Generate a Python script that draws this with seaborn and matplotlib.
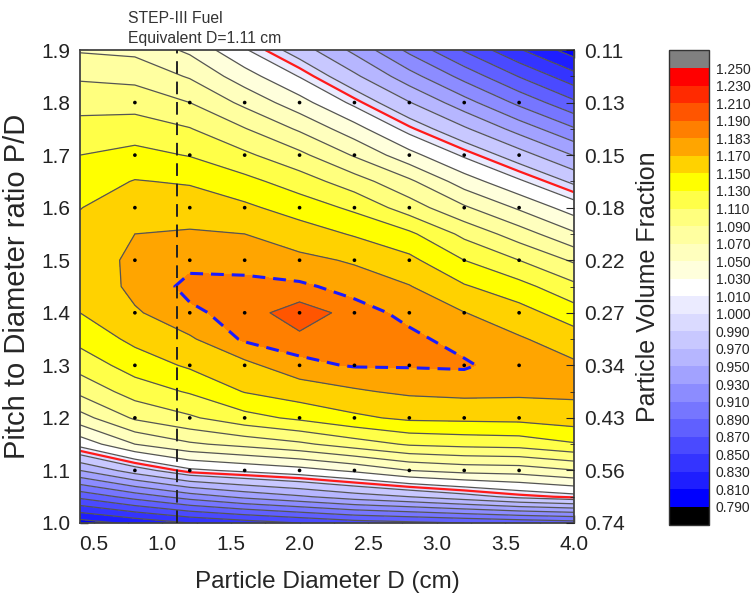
import numpy as np
import pandas as pd
import matplotlib
matplotlib.use("Agg")
import matplotlib.pyplot as plt
from matplotlib.colors import ListedColormap, BoundaryNorm
import seaborn as sns

# ---------------- data ----------------
diam = [0.4, 0.8, 1.2, 1.6, 2.0, 2.4, 2.8, 3.2, 3.6, 4.0]
pitch = [1.00, 1.05, 1.10, 1.15, 1.20, 1.25, 1.30, 1.35, 1.40, 1.45,
         1.50, 1.55, 1.60, 1.65, 1.70, 1.75, 1.80, 1.85, 1.90]
kinf = [
    [0.800, 0.815, 0.830, 0.840, 0.850, 0.860, 0.865, 0.870, 0.875, 0.880],
    [0.875, 0.898, 0.919, 0.935, 0.947, 0.960, 0.970, 0.982, 0.995, 1.003],
    [0.950, 0.980, 1.006, 1.014, 1.022, 1.034, 1.050, 1.057, 1.059, 1.069],
    [1.017, 1.050, 1.067, 1.076, 1.086, 1.100, 1.1125, 1.116, 1.118, 1.128],
    [1.062, 1.093, 1.107, 1.123, 1.134, 1.146, 1.154, 1.155, 1.156, 1.161],
    [1.095, 1.119, 1.132, 1.151, 1.161, 1.168, 1.173, 1.175, 1.174, 1.174],
    [1.118, 1.139, 1.153, 1.166, 1.180, 1.184, 1.184, 1.1845, 1.1775, 1.173],
    [1.136, 1.155, 1.168, 1.185, 1.1885, 1.189, 1.1855, 1.179, 1.172, 1.160],
    [1.150, 1.168, 1.181, 1.187, 1.1935, 1.1875, 1.180, 1.1705, 1.158, 1.139],
    [1.155, 1.175, 1.186, 1.186, 1.185, 1.179, 1.171, 1.152, 1.137, 1.115],
    [1.157, 1.175, 1.180, 1.179, 1.1745, 1.168, 1.155, 1.130, 1.110, 1.087],
    [1.155, 1.170, 1.172, 1.170, 1.160, 1.148, 1.134, 1.105, 1.080, 1.053],
    [1.1495, 1.160, 1.161, 1.154, 1.141, 1.126, 1.100, 1.073, 1.047, 1.020],
    [1.140, 1.151, 1.148, 1.136, 1.120, 1.099, 1.074, 1.040, 1.013, 0.986],
    [1.130, 1.136, 1.129, 1.114, 1.095, 1.068, 1.037, 1.007, 0.979, 0.949],
    [1.117, 1.120, 1.111, 1.091, 1.067, 1.038, 1.003, 0.973, 0.942, 0.912],
    [1.103, 1.102, 1.090, 1.065, 1.038, 1.005, 0.971, 0.938, 0.905, 0.874],
    [1.087, 1.084, 1.068, 1.039, 1.009, 0.974, 0.938, 0.903, 0.869, 0.837],
    [1.068, 1.065, 1.046, 1.012, 0.980, 0.945, 0.905, 0.868, 0.832, 0.800],
]
levels = [0.79, 0.81, 0.83, 0.85, 0.87, 0.89, 0.91, 0.93, 0.95, 0.97, 0.99,
          1.00, 1.01, 1.03, 1.05, 1.07, 1.09, 1.11, 1.13, 1.15, 1.17,
          1.183, 1.19, 1.21, 1.23, 1.25]
band_colors = ["#0000FF", "#1E1EFF", "#3434FF", "#4A4AFF", "#6060FF", "#7676FF",
               "#8C8CFF", "#A2A2FF", "#B6B6FF", "#C8C8FF", "#DADAFF", "#EBEBFF",
               "#FFFFFF", "#FFFFDC", "#FFFFBE", "#FFFFA0", "#FFFF7E", "#FFFF48",
               "#FFFF00", "#FFD200", "#FFA500", "#FF7F00", "#FF5500", "#FF2A00",
               "#FF0000"]
dot_d = [0.8, 1.2, 1.6, 2.0, 2.4, 2.8, 3.2, 3.6]
dot_p = [1.1, 1.2, 1.3, 1.4, 1.5, 1.6, 1.7, 1.8]
pd_ticks = [1.0, 1.1, 1.2, 1.3, 1.4, 1.5, 1.6, 1.7, 1.8, 1.9]
vf_labels = ["0.74", "0.56", "0.43", "0.34", "0.27", "0.22", "0.18", "0.15", "0.13", "0.11"]
x_ticks = [0.5, 1.0, 1.5, 2.0, 2.5, 3.0, 3.5, 4.0]
equiv_d = 1.11

# ---------------- style ----------------
sns.set_style("ticks")
plt.rcParams["font.family"] = ["Liberation Sans", "DejaVu Sans"]

fig = plt.figure(figsize=(7.55, 5.97), dpi=100)
ax = fig.add_axes([80 / 755, 74 / 597, 494 / 755, 473 / 597])

X, Y = np.meshgrid(np.array(diam), np.array(pitch))
Z = np.array(kinf)

cmap = ListedColormap(band_colors)
cmap.set_under("black")
cmap.set_over("#808080")
norm = BoundaryNorm(levels, cmap.N)

cf = ax.contourf(X, Y, Z, levels=levels, cmap=cmap, norm=norm, extend="both")
grey_lv = [l for l in levels if l not in (1.00, 1.183)]
ax.contour(X, Y, Z, levels=grey_lv, colors="#555555", linewidths=0.9)
ax.contour(X, Y, Z, levels=[1.00], colors="#FF1A1A", linewidths=1.6)
ax.contour(X, Y, Z, levels=[1.183], colors="#1A1AFF", linewidths=2.2,
           linestyles=[(0, (4.2, 2.6))])

# grid dots
gx, gy = np.meshgrid(dot_d, dot_p)
dots = pd.DataFrame({"D": gx.ravel(), "PD": gy.ravel()})
sns.scatterplot(data=dots, x="D", y="PD", ax=ax, color="black", s=7,
                edgecolor="none", legend=False, zorder=5)

ax.axvline(equiv_d, color="#222222", lw=1.4, ls=(0, (6.5, 4)), zorder=6)

ax.set_xlim(0.4, 4.0)
ax.set_ylim(1.0, 1.9)
ax.set_xticks(x_ticks)
ax.set_xticks(np.arange(0.5, 4.01, 0.25), minor=True)
ax.set_yticks(pd_ticks)
ax.set_yticks(np.arange(1.0, 1.901, 0.05), minor=True)
ax.set_xticklabels([f"{v:.1f}" for v in x_ticks])
ax.set_yticklabels([f"{v:.1f}" for v in pd_ticks])
ax.tick_params(which="both", direction="in", top=True, right=False, labelsize=15,
               colors="#222222")
ax.tick_params(axis="x", which="both", pad=9)
ax.tick_params(axis="y", which="both", pad=7)
ax.tick_params(which="major", length=6, width=1)
ax.tick_params(which="minor", length=3, width=1)
ax.set_xlabel("Particle Diameter D (cm)", fontsize=17.5, labelpad=12)
ax.set_ylabel("Pitch to Diameter ratio P/D", fontsize=21, labelpad=7)
for s in ax.spines.values():
    s.set_linewidth(1.3)
    s.set_color("#444444")

ax2 = ax.twinx()
ax2.set_ylim(1.0, 1.9)
ax2.set_yticks(pd_ticks)
ax2.set_yticklabels(vf_labels)
ax2.set_yticks(np.arange(1.0, 1.901, 0.05), minor=True)
ax2.tick_params(which="both", direction="in", labelsize=15, pad=7)
ax2.tick_params(which="major", length=6)
ax2.tick_params(which="minor", length=3)
ax2.set_ylabel("Particle Volume Fraction", fontsize=18, labelpad=8)
for s in ax2.spines.values():
    s.set_visible(False)

fig.text(128 / 755, 1 - 23 / 597, "STEP-III Fuel", fontsize=11.3, color="#333333")
fig.text(128 / 755, 1 - 43 / 597, "Equivalent D=1.11 cm", fontsize=11.3, color="#333333")

# colorbar
cax = fig.add_axes([669 / 755, 1 - 525 / 597, 40 / 755, 475 / 597])
cb = fig.colorbar(cf, cax=cax, spacing="uniform", extend="both",
                  extendrect=True, extendfrac=18 / 437, drawedges=False)
cb.set_ticks(levels)
cb.set_ticklabels([f"{v:.3f}" for v in levels])
cb.ax.tick_params(length=0, labelsize=10, pad=5)
cb.outline.set_linewidth(1.0)
cb.outline.set_edgecolor("#333333")

fig.savefig("out.png", dpi=100)
